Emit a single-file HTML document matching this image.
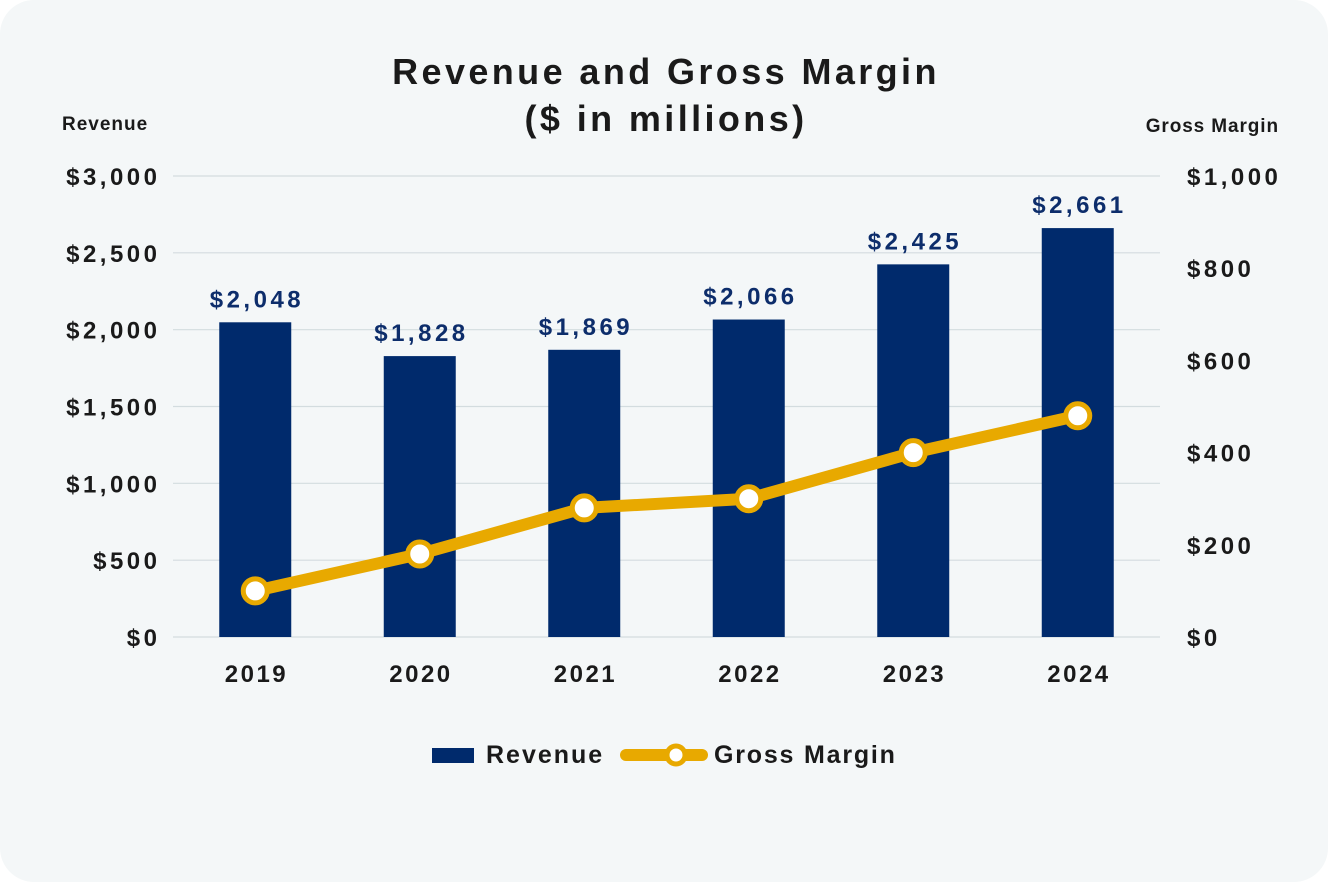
<!DOCTYPE html>
<html><head><meta charset="utf-8"><style>
html,body{margin:0;padding:0;background:#fff;}
svg{display:block;font-family:"Liberation Sans",Arial,sans-serif;}
</style></head><body>
<svg id="chart" width="1328" height="882" viewBox="0 0 1328 882">
<rect x="0" y="0" width="1328" height="882" rx="34" fill="#f4f7f8"/>
<text x="666" y="84" text-anchor="middle" font-size="36" font-weight="bold" letter-spacing="3.4" fill="#1a1a1a">Revenue and Gross Margin</text>
<text x="666" y="131" text-anchor="middle" font-size="36" font-weight="bold" letter-spacing="3.4" fill="#1a1a1a">($ in millions)</text>
<text x="62" y="130" font-size="19" font-weight="bold" letter-spacing="1" fill="#1a1a1a">Revenue</text>
<text x="1279" y="132" text-anchor="end" font-size="19" font-weight="bold" letter-spacing="0.9" fill="#1a1a1a">Gross Margin</text>
<g id="grid"></g><g id="bars"></g><g id="line"></g><g id="labels"></g>
<g>
<rect x="432" y="748" width="42" height="15" fill="#002a6c"/>
<text x="486" y="763" font-size="25" font-weight="bold" letter-spacing="2" fill="#1a1a1a">Revenue</text>
<line x1="626" y1="755" x2="702" y2="755" stroke="#e8a900" stroke-width="12" stroke-linecap="round"/>
<circle cx="676" cy="755" r="9" fill="#fff" stroke="#e8a900" stroke-width="5"/>
<text x="714" y="763" font-size="25" font-weight="bold" letter-spacing="1.8" fill="#1a1a1a">Gross Margin</text>
</g>
</svg>
<script>
const years = ["2019","2020","2021","2022","2023","2024"];
const revenue = [2048,1828,1869,2066,2425,2661];
const revenueLabels = ["$2,048","$1,828","$1,869","$2,066","$2,425","$2,661"];
const grossMargin = [100,180,280,300,400,480];
const leftTicks = [0,500,1000,1500,2000,2500,3000];
const leftTickLabels = ["$0","$500","$1,000","$1,500","$2,000","$2,500","$3,000"];
const rightTicks = [0,200,400,600,800,1000];
const rightTickLabels = ["$0","$200","$400","$600","$800","$1,000"];
const NS="http://www.w3.org/2000/svg";
const X0=173,X1=1160,YT=176,YB=637;
const band=(X1-X0)/years.length;
const xc=i=>X0+band*(i+0.5);
const yL=v=>YB-(v/3000)*(YB-YT);
const yR=v=>YB-(v/1000)*(YB-YT);
function mk(tag,attrs,parent,txt){const e=document.createElementNS(NS,tag);for(const k in attrs)e.setAttribute(k,attrs[k]);if(txt!==undefined)e.textContent=txt;document.getElementById(parent).appendChild(e);return e;}
leftTicks.forEach((t,i)=>{
 const g=mk('line',{x1:X0,x2:X1,y1:yL(t),y2:yL(t),stroke:'#d3dcdf','stroke-width':1.2},'grid');
 
 
 const l=mk('text',{x:160.5,y:yL(t)+9,'text-anchor':'end','font-size':24,'font-weight':'bold','letter-spacing':3.5,fill:'#1a1a1a'},'labels',leftTickLabels[i]);
 
 
});
rightTicks.forEach((t,i)=>{
 const l=mk('text',{x:1187,y:yR(t)+9,'font-size':24,'font-weight':'bold','letter-spacing':3.5,fill:'#1a1a1a'},'labels',rightTickLabels[i]);
 
 
});
years.forEach((y,i)=>{
 const b=mk('rect',{x:xc(i)-36,y:yL(revenue[i]),width:72,height:YB-yL(revenue[i]),fill:'#002a6c'},'bars');
 
 
 const v=mk('text',{x:xc(i)+1.7,y:yL(revenue[i])-15,'text-anchor':'middle','font-size':24,'font-weight':'bold','letter-spacing':3.5,fill:'#0d2d6b'},'labels',revenueLabels[i]);
 
 
 const xl=mk('text',{x:xc(i)+1.2,y:682,'text-anchor':'middle','font-size':24,'font-weight':'bold','letter-spacing':2.5,fill:'#1a1a1a'},'labels',y);
 
 
});
const pts=grossMargin.map((v,i)=>xc(i)+','+yR(v)).join(' ');
const pl=mk('polyline',{points:pts,fill:'none',stroke:'#e8a900','stroke-width':12,'stroke-linejoin':'round','stroke-linecap':'round'},'line');


grossMargin.forEach((v,i)=>{
 const c=mk('circle',{cx:xc(i),cy:yR(v),r:12,fill:'#fff',stroke:'#e8a900','stroke-width':5},'line');
 
 
});
</script>
</body></html>
